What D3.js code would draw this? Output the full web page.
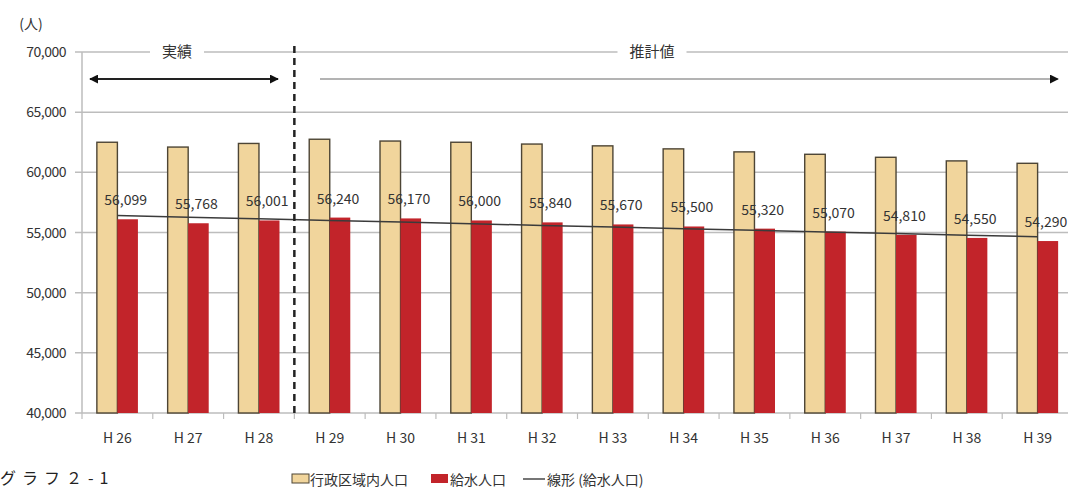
<!DOCTYPE html>
<html>
<head>
<meta charset="utf-8">
<script src="https://cdn.jsdelivr.net/npm/d3@7/dist/d3.min.js"></script>
<style>
  html, body { margin: 0; padding: 0; background: #fff; }
  svg { display: block; }
  text { font-family: "Noto Sans CJK JP", "Noto Sans", sans-serif; }
</style>
</head>
<body>
<svg id="chart" width="1071" height="492"></svg>
<script>
// 年度（H26〜H28 実績、H29〜H39 推計値）
const categories = ["H26","H27","H28","H29","H30","H31","H32","H33","H34","H35","H36","H37","H38","H39"];
const categoryLabels = ["H 26","H 27","H 28","H 29","H 30","H 31","H 32","H 33","H 34","H 35","H 36","H 37","H 38","H 39"];
// 行政区域内人口
const adminPopulation = [62500, 62100, 62400, 62750, 62600, 62500, 62350, 62200, 61950, 61700, 61500, 61250, 60950, 60750];
// 給水人口
const servedPopulation = [56099, 55768, 56001, 56240, 56170, 56000, 55840, 55670, 55500, 55320, 55070, 54810, 54550, 54290];
const yTicks = [40000, 45000, 50000, 55000, 60000, 65000, 70000];
const seriesNames = ["行政区域内人口", "給水人口"];
const actualCount = 3; // 実績の年数

const svg = d3.select("#chart");
const plotLeft = 82, plotRight = 1073, plotTop = 52, plotBottom = 413;

const x = d3.scaleBand().domain(categories).range([plotLeft, plotRight]);
const bw = x.bandwidth();
const x1 = d3.scaleBand().domain(seriesNames).range([bw * 0.21, bw * 0.79]);
const y = d3.scaleLinear().domain([40000, 70000]).range([plotBottom, plotTop]);

const gridColor = "#bdbdbd";
const textColor = "#333";
const redFill = "#c2242a";
const tanFill = "#f1d59c";
const fmt = d3.format(",");

// 横グリッド線
svg.append("g").selectAll("line").data(yTicks).join("line")
  .attr("x1", plotLeft - 7).attr("x2", 1068)
  .attr("y1", d => y(d)).attr("y2", d => y(d))
  .attr("stroke", gridColor).attr("stroke-width", 1.5);

// 縦軸
svg.append("line").attr("x1", plotLeft).attr("x2", plotLeft)
  .attr("y1", plotTop).attr("y2", plotBottom)
  .attr("stroke", gridColor).attr("stroke-width", 1.5);

// 縦軸目盛ラベル
svg.append("g").selectAll("text").data(yTicks).join("text")
  .attr("x", 66).attr("y", d => y(d) + 5)
  .attr("text-anchor", "end").attr("font-size", 14).attr("fill", textColor)
  .attr("letter-spacing", -0.5)
  .text(d => fmt(d));

svg.append("text").attr("x", 31).attr("y", 29).attr("text-anchor", "middle")
  .attr("font-size", 14).attr("fill", textColor).text("(人)");

// 横軸目盛
const boundaries = categories.map(c => x(c)).concat([plotRight]);
svg.append("g").selectAll("line").data(boundaries).join("line")
  .attr("x1", d => d).attr("x2", d => d)
  .attr("y1", plotBottom).attr("y2", plotBottom + 6)
  .attr("stroke", gridColor).attr("stroke-width", 1.2);

svg.append("g").selectAll("text").data(categories).join("text")
  .attr("x", c => x(c) + bw / 2).attr("y", 443)
  .attr("text-anchor", "middle").attr("font-size", 14).attr("fill", textColor)
  .text((c, i) => categoryLabels[i]);

// 棒グラフ
const groups = svg.append("g").selectAll("g").data(categories).join("g")
  .attr("transform", c => `translate(${x(c)},0)`);

groups.append("rect")
  .attr("x", x1(seriesNames[0])).attr("width", x1.bandwidth())
  .attr("y", (c, i) => y(adminPopulation[i]))
  .attr("height", (c, i) => plotBottom - y(adminPopulation[i]))
  .attr("fill", tanFill).attr("stroke", "#4d4535").attr("stroke-width", 1.4);

groups.append("rect")
  .attr("x", x1(seriesNames[1])).attr("width", x1.bandwidth())
  .attr("y", (c, i) => y(servedPopulation[i]))
  .attr("height", (c, i) => plotBottom - y(servedPopulation[i]))
  .attr("fill", redFill);

// 線形近似（給水人口）
const n = servedPopulation.length;
const xs = d3.range(1, n + 1);
const mx = d3.mean(xs), my = d3.mean(servedPopulation);
const slope = d3.sum(xs, (v, i) => (v - mx) * (servedPopulation[i] - my)) / d3.sum(xs, v => (v - mx) ** 2);
const intercept = my - slope * mx;
const trend = xs.map(v => intercept + slope * v);
const trendLine = d3.line()
  .x((d, i) => x(categories[i]) + bw / 2)
  .y(d => y(d));
svg.append("path").datum(trend).attr("d", trendLine)
  .attr("fill", "none").attr("stroke", "#3b3b3b").attr("stroke-width", 1.5);

// データラベル
groups.append("text")
  .attr("x", x1(seriesNames[1]) + x1.bandwidth() / 2 - 2)
  .attr("y", (c, i) => y(servedPopulation[i]) - 14)
  .attr("text-anchor", "middle").attr("font-size", 14).attr("fill", textColor)
  .text((c, i) => fmt(servedPopulation[i]));

// 実績／推計値の区切り線
const divX = x(categories[actualCount]);
svg.append("line").attr("x1", divX).attr("x2", divX)
  .attr("y1", 46).attr("y2", plotBottom)
  .attr("stroke", "#222").attr("stroke-width", 2.5).attr("stroke-dasharray", "7,5");

// 区分見出し
const headG = svg.append("g");
function heading(cx, label) {
  const t = headG.append("text").attr("x", cx).attr("y", y(70000) + 5)
    .attr("text-anchor", "middle").attr("font-size", 15).attr("fill", textColor).text(label);
  const b = t.node().getBBox();
  headG.insert("rect", () => t.node()).attr("x", b.x - 12).attr("y", b.y - 2)
    .attr("width", b.width + 24).attr("height", b.height + 4).attr("fill", "#fff");
}
heading(177, "実績");
heading(652, "推計値");

// 矢印
const defs = svg.append("defs");
defs.append("marker").attr("id", "ah").attr("viewBox", "0 0 10 10")
  .attr("refX", 9).attr("refY", 5).attr("markerWidth", 4.5).attr("markerHeight", 4.5)
  .attr("orient", "auto-start-reverse")
  .append("path").attr("d", "M0,0 L10,5 L0,10 z").attr("fill", "#111");

const arrowY = 79;
svg.append("line").attr("x1", 90).attr("x2", 278).attr("y1", arrowY).attr("y2", arrowY)
  .attr("stroke", "#222").attr("stroke-width", 2)
  .attr("marker-start", "url(#ah)").attr("marker-end", "url(#ah)");
svg.append("line").attr("x1", 320).attr("x2", 1058).attr("y1", arrowY).attr("y2", arrowY)
  .attr("stroke", "#b3b3b3").attr("stroke-width", 2)
  .attr("marker-end", "url(#ah)");

// 凡例
const lg = svg.append("g").attr("font-size", 14).attr("fill", textColor);
lg.append("rect").attr("x", 292).attr("y", 474).attr("width", 17).attr("height", 9)
  .attr("fill", tanFill).attr("stroke", "#4d4535").attr("stroke-width", 1);
lg.append("text").attr("x", 310).attr("y", 485).text(seriesNames[0]);
lg.append("rect").attr("x", 431).attr("y", 474).attr("width", 17).attr("height", 9)
  .attr("fill", redFill);
lg.append("text").attr("x", 450).attr("y", 485).text(seriesNames[1]);
lg.append("line").attr("x1", 523).attr("x2", 545).attr("y1", 479).attr("y2", 479)
  .attr("stroke", "#3b3b3b").attr("stroke-width", 1.4);
lg.append("text").attr("x", 547).attr("y", 485).text("線形 (給水人口)");

// 図番号
svg.append("text").attr("x", 0).attr("y", 484).attr("font-size", 16)
  .attr("letter-spacing", 6).attr("fill", "#222").text("グラフ２-1");
</script>
</body>
</html>
